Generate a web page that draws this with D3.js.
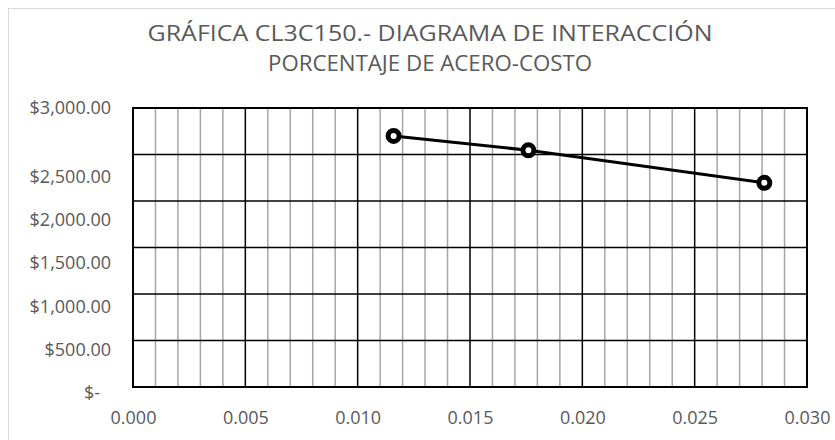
<!DOCTYPE html>
<html>
<head>
<meta charset="utf-8">
<script src="https://cdn.jsdelivr.net/npm/d3@7"></script>
<style>
  html, body { margin: 0; padding: 0; background: #fff; }
  svg { display: block; }
  text { font-family: "Open Sans", "Liberation Sans", sans-serif; fill: #595959; }
</style>
</head>
<body>
<svg id="chart" width="835" height="440"></svg>
<script>
// Steel ratio vs. cost for column CL3C150
const steelRatio = [0.0116, 0.0176, 0.0281];
const cost = [2700, 2545, 2195];

const titleLines = ["GRÁFICA CL3C150.- DIAGRAMA DE INTERACCIÓN", "PORCENTAJE DE ACERO-COSTO"];
const xTicks = [0, 0.005, 0.01, 0.015, 0.02, 0.025, 0.03];
const xMinorTicks = d3.range(0, 31).map(i => i / 1000);
const yTicks = [0, 500, 1000, 1500, 2000, 2500, 3000];

const svg = d3.select("#chart");
const W = 835, H = 440;
const margin = { top: 108, right: 28, bottom: 53, left: 133 };
const pw = W - margin.left - margin.right;
const ph = H - margin.top - margin.bottom;

// chart area frame
svg.append("rect")
  .attr("x", 8.5).attr("y", 8.5)
  .attr("width", W + 20).attr("height", H + 20)
  .attr("fill", "#fff").attr("stroke", "#d9d9d9").attr("stroke-width", 1);

const x = d3.scaleLinear().domain([0, 0.03]).range([0, pw]);
const y = d3.scaleLinear().domain([0, 3000]).range([ph, 0]);

const g = svg.append("g").attr("transform", `translate(${margin.left},${margin.top})`);

// minor vertical gridlines
g.append("g").selectAll("line")
  .data(xMinorTicks.filter((d, i) => i % 5 !== 0))
  .join("line")
  .attr("x1", d => x(d)).attr("x2", d => x(d))
  .attr("y1", 0).attr("y2", ph)
  .attr("stroke", "#a6a6a6").attr("stroke-width", 1.5);

// major vertical gridlines
g.append("g").selectAll("line")
  .data(xTicks)
  .join("line")
  .attr("x1", d => x(d)).attr("x2", d => x(d))
  .attr("y1", 0).attr("y2", ph)
  .attr("stroke", "#000").attr("stroke-width", 1.5);

// horizontal gridlines
g.append("g").selectAll("line")
  .data(yTicks)
  .join("line")
  .attr("x1", 0).attr("x2", pw)
  .attr("y1", d => y(d)).attr("y2", d => y(d))
  .attr("stroke", "#000").attr("stroke-width", 1.5);

// plot border
g.append("rect")
  .attr("x", 0).attr("y", 0).attr("width", pw).attr("height", ph)
  .attr("fill", "none").attr("stroke", "#000").attr("stroke-width", 2);

// x axis labels
const xAxis = d3.axisBottom(x).tickValues(xTicks).tickFormat(d3.format(".3f")).tickSize(0).tickPadding(24);
const xg = g.append("g").attr("transform", `translate(0,${ph})`).call(xAxis);
xg.select(".domain").remove();
xg.selectAll("text").attr("font-size", 18).attr("fill", "#595959")
  .style("font-family", '"Open Sans", sans-serif');

// y axis labels: the lower labels sit on a slightly compressed scale
const yLabel = d3.scaleLinear().domain([0, 2500]).range([y(0) + 6, y(2500) + 22]);
const money = d3.format(",.2f");
g.append("g").selectAll("text")
  .data(yTicks)
  .join("text")
  .attr("x", d => d === 0 ? -33 : -22)
  .attr("y", d => d === 3000 ? y(d) : yLabel(d))
  .attr("dy", "0.35em")
  .attr("text-anchor", "end")
  .attr("font-size", 18)
  .text(d => d === 0 ? "$-" : "$" + money(d));

// series line
const pts = steelRatio.map((d, i) => [d, cost[i]]);
g.append("path")
  .datum(pts)
  .attr("fill", "none").attr("stroke", "#000").attr("stroke-width", 3)
  .attr("d", d3.line().x(d => x(d[0])).y(d => y(d[1])));

// markers
g.append("g").selectAll("circle")
  .data(pts)
  .join("circle")
  .attr("cx", d => x(d[0])).attr("cy", d => y(d[1]))
  .attr("r", 5.5)
  .attr("fill", "#fff").attr("stroke", "#000").attr("stroke-width", 5);

// title
const titleWidths = [565, 324];
svg.append("g").selectAll("text")
  .data(titleLines)
  .join("text")
  .attr("x", 430)
  .attr("y", (d, i) => 41 + i * 30)
  .attr("text-anchor", "middle")
  .attr("font-size", 22)
  .attr("textLength", (d, i) => titleWidths[i])
  .attr("lengthAdjust", "spacingAndGlyphs")
  .text(d => d);
</script>
</body>
</html>
